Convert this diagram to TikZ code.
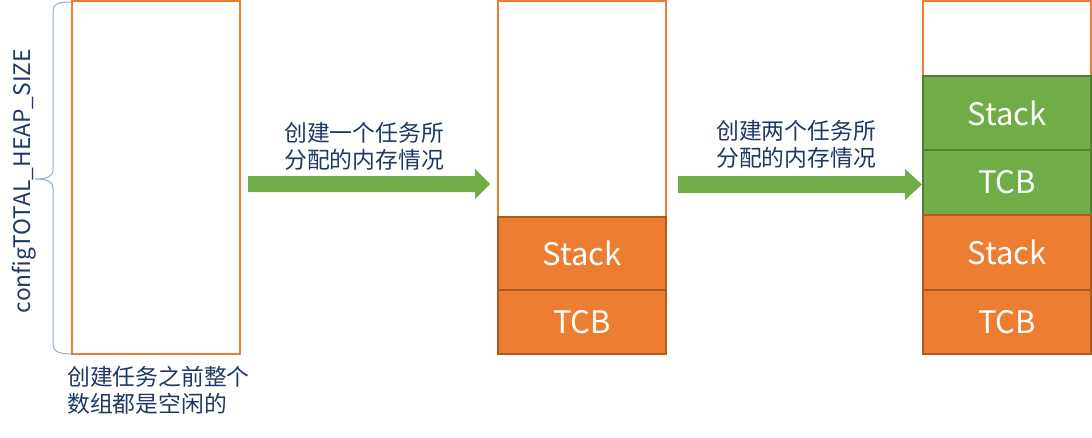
\documentclass[tikz,border=0pt]{standalone}
\usepackage{fontspec}
\setmainfont{Noto Sans CJK SC}
\usetikzlibrary{positioning}
\definecolor{orangefill}{HTML}{ED7D31}
\definecolor{orangeedge}{HTML}{AE5A21}
\definecolor{greenfill}{HTML}{70AD47}
\definecolor{greenedge}{HTML}{507E32}
\definecolor{navy}{HTML}{1F3864}
\definecolor{bracecol}{HTML}{8EA9DB}
\tikzset{
  cell/.style={draw, line width=1.5pt, minimum width=168pt, inner sep=0pt, outer sep=0pt, anchor=north west, text=white, font=\fontsize{31}{35}\selectfont},
  emptycell/.style={cell, draw=orangefill, fill=white},
  orangecell/.style={cell, draw=orangeedge, fill=orangefill},
  greencell/.style={cell, draw=greenedge, fill=greenfill},
  label/.style={text=navy, font=\fontsize{22.8}{27.5}\selectfont, align=left, inner sep=0pt},
  blockarrow/.style={fill=greenfill, draw=none}
}
\begin{document}
\begin{tikzpicture}[x=1pt,y=-1pt]
\useasboundingbox (0,0) rectangle (1092,437);
% left array
\node[emptycell, minimum height=353pt] (heap) at (72,1) {};
% brace
\draw[bracecol, line width=1pt] (72,2) .. controls (60,2) and (53,3) .. (53,12) -- (53,170) .. controls (53,177) and (46,179) .. (35,179)
  .. controls (46,179) and (53,181) .. (53,188) -- (53,344) .. controls (53,352) and (60,354) .. (72,354);
\node[text=navy, font=\fontsize{22.8}{26}\selectfont, rotate=90, inner sep=0pt] (heapsize) at (24,181) {configTOTAL\_HEAP\_SIZE};
\node[label, anchor=north west] (cap0) at (67,366) {创建任务之前整个\\数组都是空闲的};
% middle
\node[emptycell, minimum height=216pt] (m0) at (498,1) {};
\node[orangecell, minimum height=73pt] (m1) at (498,217) {Stack};
\node[orangecell, minimum height=64pt] (m2) at (498,290) {TCB};
% right
\node[emptycell, minimum height=75pt] (r0) at (923,1) {};
\node[greencell, minimum height=74pt] (r1) at (923,76) {Stack};
\node[greencell, minimum height=65pt] (r2) at (923,150) {TCB};
\node[orangecell, minimum height=75pt] (r3) at (923,215) {Stack};
\node[orangecell, minimum height=64pt] (r4) at (923,290) {TCB};
% arrows
\fill[blockarrow] (248,176) -- (475,176) -- (475,169) -- (490,184) -- (475,199) -- (475,192) -- (248,192) -- cycle;
\fill[blockarrow] (678,176) -- (905,176) -- (905,169) -- (922,184.5) -- (905,200) -- (905,193) -- (678,193) -- cycle;
\node[label, anchor=south west] (t1) at (284,171) {创建一个任务所\\分配的内存情况};
\node[label, anchor=south west] (t2) at (716,169) {创建两个任务所\\分配的内存情况};
\end{tikzpicture}
\end{document}
